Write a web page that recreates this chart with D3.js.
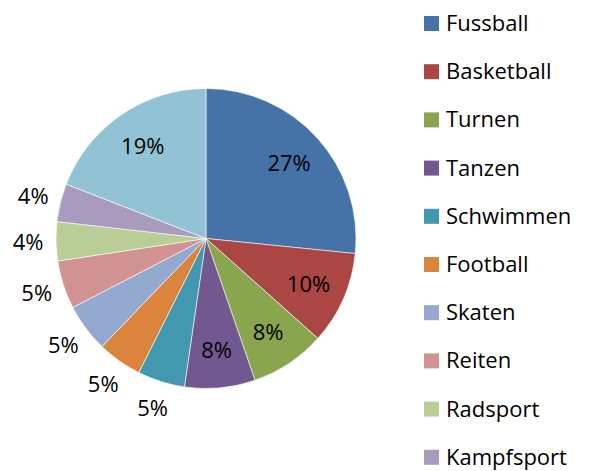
<!DOCTYPE html>
<html lang="de">
<head>
  <meta charset="utf-8">
  <title>Sportarten</title>
  <script src="https://cdn.jsdelivr.net/npm/d3@7"></script>
  <style>
    body { margin: 0; background: #fff; }
    svg text { font-family: "Open Sans", sans-serif; fill: #000; }
  </style>
</head>
<body>
<div id="chart"></div>
<script>
  // data (shares in percent, labels are rounded)
  var sports = ['Fussball', 'Basketball', 'Turnen', 'Tanzen', 'Schwimmen', 'Football',
    'Skaten', 'Reiten', 'Radsport', 'Kampfsport', 'Andere'];
  var shares = [26.6, 10.0, 8.1, 7.6, 5.1, 4.8, 5.2, 5.2, 4.2, 4.1, 19.1];
  var colors = ['#4572a7', '#aa4643', '#89a54e', '#71588f', '#4198af', '#db843d',
    '#93a9cf', '#d19392', '#b9cd96', '#a99bbd', '#92c3d4'];

  var width = 589, height = 471;
  var cx = 206, cy = 238.5, radius = 150;

  var data = sports.map(function (s, i) { return { name: s, value: shares[i] }; });

  var svg = d3.select('#chart').append('svg')
    .attr('width', width)
    .attr('height', height);

  var color = d3.scaleOrdinal().domain(sports).range(colors);

  var pie = d3.pie().sort(null).value(function (d) { return d.value; });
  var arcs = pie(data);

  var arc = d3.arc().innerRadius(0).outerRadius(radius);
  var innerLabel = d3.arc().innerRadius(112).outerRadius(112);
  var outerLabel = d3.arc().innerRadius(178).outerRadius(178);

  var g = svg.append('g').attr('transform', 'translate(' + cx + ',' + cy + ')');

  g.selectAll('path')
    .data(arcs)
    .enter()
    .append('path')
    .attr('d', arc)
    .attr('fill', function (d) { return color(d.data.name); })
    .attr('stroke', '#fff')
    .attr('stroke-width', 0.6);

  g.selectAll('text.pct')
    .data(arcs)
    .enter()
    .append('text')
    .attr('class', 'pct')
    .attr('transform', function (d) {
      var c = d.data.value >= 7 ? innerLabel.centroid(d) : outerLabel.centroid(d);
      return 'translate(' + c[0] + ',' + c[1] + ')';
    })
    .attr('text-anchor', 'middle')
    .attr('dy', '0.36em')
    .style('font-size', '22px')
    .text(function (d) { return Math.round(d.data.value) + '%'; });

  // legend
  var legendY = d3.scalePoint().domain(sports).range([23, 23 + 48.2 * (sports.length - 1)]);

  var legend = svg.append('g').selectAll('g')
    .data(sports)
    .enter()
    .append('g')
    .attr('transform', function (d) { return 'translate(424,' + legendY(d) + ')'; });

  legend.append('rect')
    .attr('x', 0)
    .attr('y', -7)
    .attr('width', 15)
    .attr('height', 15)
    .attr('fill', function (d) { return color(d); });

  legend.append('text')
    .attr('x', 22)
    .attr('dy', '0.36em')
    .style('font-size', '22px')
    .text(function (d) { return d; });
</script>
</body>
</html>
